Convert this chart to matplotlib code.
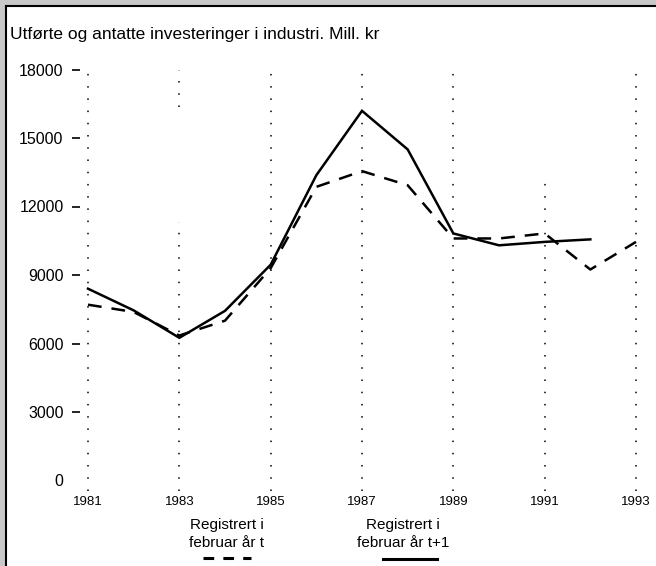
import matplotlib.pyplot as plt
import matplotlib.lines as mlines
import numpy as np

years = [1981, 1982, 1983, 1984, 1985, 1986, 1987, 1988, 1989, 1990, 1991, 1992, 1993]
# registrert i februar aar t+1 (solid), ends 1992
feb_t1 = [8400, 7450, 6250, 7430, 9450, 13370, 16190, 14500, 10820, 10300, 10450, 10560]
# registrert i februar aar t (dashed)
feb_t = [7700, 7380, 6350, 7000, 9300, 12860, 13550, 12930, 10600, 10600, 10820, 9240, 10450]

grid_years = [1981, 1983, 1985, 1987, 1989, 1991, 1993]
# vertical dotted guides (with the breaks seen in the original)
grid_segments = {
    1981: [(-450, 18000)],
    1983: [(-450, 11300), (16370, 18000)],
    1985: [(-450, 18000)],
    1987: [(-450, 18000)],
    1989: [(-450, 18000)],
    1991: [(-450, 13090)],
    1993: [(-450, 18000)],
}
yticks = [0, 3000, 6000, 9000, 12000, 15000, 18000]

plt.rcParams['font.family'] = ['Liberation Sans', 'DejaVu Sans']

W, H = 656, 566
fig = plt.figure(figsize=(W / 100, H / 100), dpi=100)

# outer frame: grey band + black line on left and top
fig.patches.append(plt.Rectangle((0, 0), 5 / W, 1, transform=fig.transFigure,
                                 color='#c8c8c8', zorder=0))
fig.patches.append(plt.Rectangle((0, 1 - 5 / H), 1, 5 / H, transform=fig.transFigure,
                                 color='#c8c8c8', zorder=0))
fig.lines.append(mlines.Line2D([6 / W, 6 / W], [0, 1 - 6 / H], transform=fig.transFigure,
                               color='black', lw=1.5))
fig.lines.append(mlines.Line2D([6 / W, 1], [1 - 6 / H, 1 - 6 / H], transform=fig.transFigure,
                               color='black', lw=1.5))

# axes placed so that 1981 -> x=88px, 1993 -> x=636px, 18000 -> y=69.5px, 0 -> y=480.5px
left, right, top, bottom = 80, 645, 62, 492
ax = fig.add_axes([left / W, 1 - bottom / H, (right - left) / W, (bottom - top) / H])
ppx = (636 - 88) / 12.0
ppy = (480.5 - 69.5) / 18000.0
ax.set_xlim(1981 - (88 - left) / ppx, 1993 + (right - 636) / ppx)
ax.set_ylim(-(bottom - 480.5) / ppy, 18000 + (69.5 - top) / ppy)

for yr in grid_years:
    for y0, y1 in grid_segments[yr]:
        ax.plot([yr, yr], [y0, y1], color='black', lw=1.1, linestyle=(0, (1, 7)))

ax.plot(years[:len(feb_t1)], feb_t1, color='black', lw=1.8, solid_joinstyle='miter')
ax.plot(years, feb_t, color='black', lw=1.8, linestyle=(0, (5.5, 4)))

for s in ax.spines.values():
    s.set_visible(False)
ax.set_yticks(yticks)
ax.set_yticklabels([str(v) for v in yticks], fontsize=11.5)
ax.tick_params(axis='y', length=5.8, width=1.2, pad=6)
ax.yaxis.get_major_ticks()[0].tick1line.set_visible(False)
ax.set_xticks(grid_years)
ax.set_xticklabels([str(v) for v in grid_years], fontsize=9.5)
ax.tick_params(axis='x', length=0, pad=3)

fig.text(10 / W, 1 - 35 / H, 'Utførte og antatte investeringer i industri. Mill. kr',
         fontsize=12.5, va='center', ha='left')

fig.text(227 / W, 1 - 525 / H, 'Registrert i', fontsize=11,
         ha='center', va='center')
fig.text(227 / W, 1 - 543 / H, 'februar år t', fontsize=11,
         ha='center', va='center')
fig.text(403 / W, 1 - 525 / H, 'Registrert i', fontsize=11,
         ha='center', va='center')
fig.text(403 / W, 1 - 543 / H, 'februar år t+1', fontsize=11,
         ha='center', va='center')

fig.lines.append(mlines.Line2D([203 / W, 251 / W], [1 - 558 / H, 1 - 558 / H],
                               transform=fig.transFigure, color='black', lw=2.2,
                               linestyle=(0, (3.5, 3))))
fig.lines.append(mlines.Line2D([383 / W, 437 / W], [1 - 559 / H, 1 - 559 / H],
                               transform=fig.transFigure, color='black', lw=2.2))

fig.savefig('out.png', dpi=100)
